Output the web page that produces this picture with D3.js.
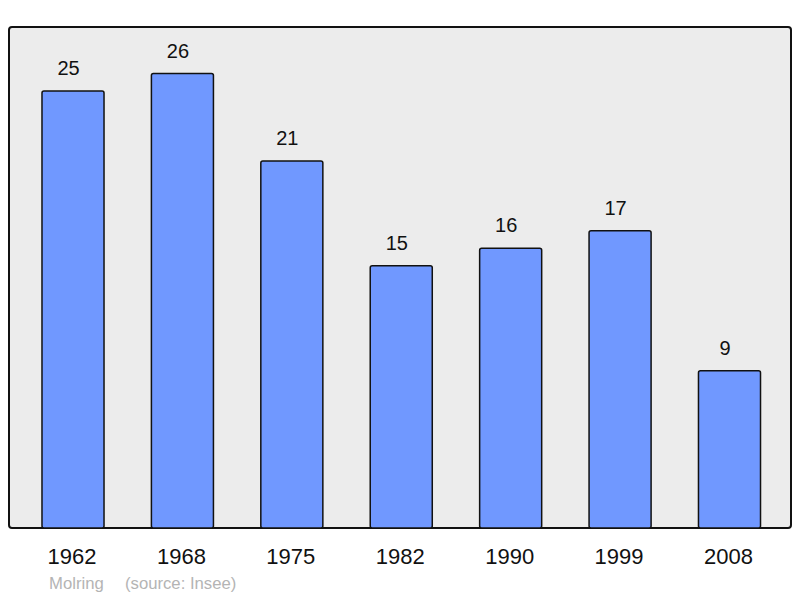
<html>
<head>
  <meta charset="utf-8">
  <title>Population</title>
  <script src="https://d3js.org/d3.v7.min.js"></script>
  <style>
    body { margin: 0; background: #fff; }
    text { font-family: "Liberation Sans", Arial, sans-serif; }
  </style>
</head>
<body>
  <script>
    var years = ['1962', '1968', '1975', '1982', '1990', '1999', '2008'];
    var population = [25, 26, 21, 15, 16, 17, 9];

    var width = 800, height = 598;
    var svg = d3.select('body').append('svg')
      .attr('width', width)
      .attr('height', height);

    // panel
    svg.append('rect')
      .attr('x', 9).attr('y', 27)
      .attr('width', 782).attr('height', 501)
      .attr('rx', 3)
      .attr('fill', '#ececec')
      .attr('stroke', '#111')
      .attr('stroke-width', 2);

    var x = d3.scaleBand()
      .domain(years)
      .range([18.3, 784.2])
      .paddingInner(0.433)
      .paddingOuter(0.2165);

    var y = d3.scaleLinear()
      .domain([0, 26])
      .range([528, 73.5]);

    var data = years.map(function(d, i){ return {year: d, value: population[i]}; });

    svg.selectAll('rect.bar')
      .data(data)
      .enter()
      .append('rect')
        .attr('class', 'bar')
        .attr('x', function(d){ return x(d.year); })
        .attr('y', function(d){ return y(d.value); })
        .attr('width', x.bandwidth())
        .attr('height', function(d){ return y(0) - y(d.value); })
        .attr('rx', 2)
        .attr('fill', '#7098ff')
        .attr('stroke', '#111')
        .attr('stroke-width', 1.5);

    // value labels (sit a little left of the bar centre, like the original)
    svg.selectAll('text.val')
      .data(data)
      .enter()
      .append('text')
        .attr('class', 'val')
        .attr('x', function(d){ return x(d.year) + x.bandwidth() / 2 - 4.5; })
        .attr('y', function(d){ return y(d.value) - 16; })
        .attr('text-anchor', 'middle')
        .attr('font-size', 20)
        .attr('fill', '#111')
        .text(function(d){ return d.value; });

    // year axis labels
    var axis = d3.axisBottom(x).tickSize(0).tickPadding(0);
    var g = svg.append('g')
      .attr('transform', 'translate(-1,548)')
      .call(axis);
    g.select('.domain').remove();
    g.selectAll('text')
      .attr('font-size', 22)
      .attr('fill', '#111')
      .attr('font-family', '"Liberation Sans", Arial, sans-serif');

    svg.append('text')
      .attr('x', 49).attr('y', 589)
      .attr('font-size', 16.7)
      .attr('fill', '#b4b4b4')
      .text('Molring');
    svg.append('text')
      .attr('x', 125).attr('y', 589)
      .attr('font-size', 16.7)
      .attr('fill', '#b4b4b4')
      .text('(source: Insee)');
  </script>
</body>
</html>
